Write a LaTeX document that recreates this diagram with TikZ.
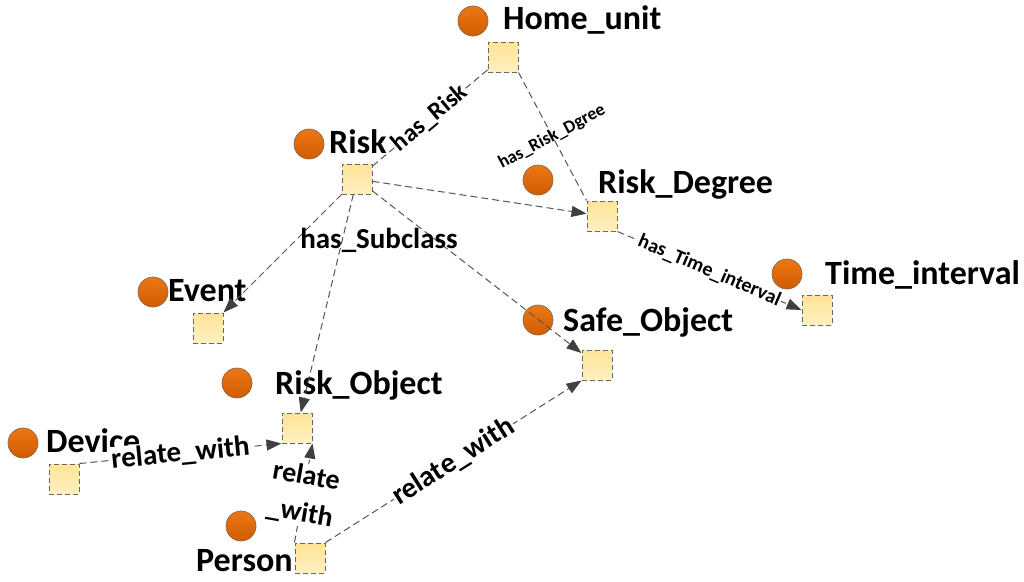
\documentclass[tikz,border=0pt]{standalone}
\usepackage{fontspec}
\setmainfont{Carlito}
\usetikzlibrary{arrows.meta}
\definecolor{clsfillA}{HTML}{EC7715}
\definecolor{clsfillB}{HTML}{D05C00}
\definecolor{clsline}{HTML}{8A6A50}
\definecolor{instA}{HTML}{FFE497}
\definecolor{instB}{HTML}{FFF0C2}
\definecolor{instline}{HTML}{666666}
\definecolor{edgeline}{HTML}{555555}
\definecolor{tipcol}{HTML}{404040}
\begin{document}
\begin{tikzpicture}[x=1pt,y=-1pt,
  clsnode/.style={circle, minimum size=30pt, inner sep=0pt, draw=clsline, line width=0.7pt, top color=clsfillA, bottom color=clsfillB},
  instnode/.style={rectangle, minimum size=30pt, inner sep=0pt, draw=instline, dash pattern=on 5pt off 3pt, line width=1pt, top color=instA, bottom color=instB},
  namelbl/.style={font=\bfseries\fontsize{34}{34}\selectfont, inner sep=0pt, anchor=base west},
  biglbl/.style={font=\bfseries\fontsize{29}{30}\selectfont, inner sep=1pt},
  rel/.style={draw=edgeline, dash pattern=on 7pt off 4pt, line width=1pt},
  relarrow/.style={rel, -{Triangle[length=15pt,width=11pt,fill=tipcol,color=tipcol]}}
]
\useasboundingbox (0,0) rectangle (1024,581);

% classes (circles)
\node[clsnode] (cHome) at (473,21) {};
\node[clsnode] (cRisk) at (309,144) {};
\node[clsnode] (cRD) at (538,180) {};
\node[clsnode] (cTime) at (787,274) {};
\node[clsnode] (cEvent) at (153,292) {};
\node[clsnode] (cSafe) at (538,320) {};
\node[clsnode] (cRO) at (237,383) {};
\node[clsnode] (cDev) at (23,443) {};
\node[clsnode] (cPer) at (241,526) {};

% instances (squares)
\node[instnode] (sqHome) at (503,57) {};
\node[instnode] (sqRisk) at (357,179) {};
\node[instnode] (sqRD) at (602,216) {};
\node[instnode] (sqTime) at (817,310) {};
\node[instnode] (sqEvent) at (208,328) {};
\node[instnode] (sqSafe) at (597,365) {};
\node[instnode] (sqRO) at (297,428) {};
\node[instnode] (sqDev) at (64,479) {};
\node[instnode] (sqPer) at (310,558) {};

% names
\node[namelbl] (lHome) at (503,29) {Home\_unit};
\node[namelbl] (lRisk) at (329,153) {Risk};
\node[namelbl] (lRD) at (598,193) {Risk\_Degree};
\node[namelbl] (lTime) at (825,284) {Time\_interval};
\node[namelbl] (lEvent) at (168,301) {Event};
\node[namelbl] (lSafe) at (563,331) {Safe\_Object};
\node[namelbl] (lRO) at (275,394) {Risk\_Object};
\node[namelbl] (lDev) at (46,452) {Device};
\node[namelbl] (lPer) at (196,571) {Person};

% edges
\draw[rel] (sqHome) -- (sqRisk)
  node[pos=0.5, sloped, fill=white, font=\bfseries\fontsize{25}{25}\selectfont, inner sep=1pt] (eHasRisk) {has\_Risk};
\draw[rel] (sqHome.south east) -- (sqRD.north west);
\node[font=\bfseries\fontsize{18}{18}\selectfont, rotate=28, inner sep=0pt] (eHasRD) at (552,137) {has\_Risk\_Dgree};
\draw[relarrow] (sqRisk) -- (sqRD);
\draw[relarrow] (sqRisk) -- (sqEvent);
\draw[relarrow] (sqRisk) -- (sqRO);
\draw[relarrow] (sqRisk) -- (sqSafe);
\node[biglbl] (eSub) at (379,240) {has\_Subclass};
\draw[relarrow] (sqRD.south east) -- (sqTime.west)
  node[pos=0.5, sloped, fill=white, font=\bfseries\fontsize{20}{20}\selectfont, inner sep=1pt] (eTime) {has\_Time\_interval};
\draw[relarrow] (sqDev.north east) -- (sqRO.south west)
  node[pos=0.5, sloped, fill=white, biglbl] (eDev) {relate\_with};
\draw[relarrow] (sqPer.north west) -- (sqRO.south east);
\node[fill=white, inner sep=1pt, rotate=-10, align=center, font=\bfseries\fontsize{28}{37}\selectfont] (ePerRO) at (303,495) {relate\\\_with};
\draw[relarrow] (sqPer.north east) -- (sqSafe.south west)
  node[pos=0.5, sloped, fill=white, biglbl] (ePerSafe) {relate\_with};
\end{tikzpicture}
\end{document}
